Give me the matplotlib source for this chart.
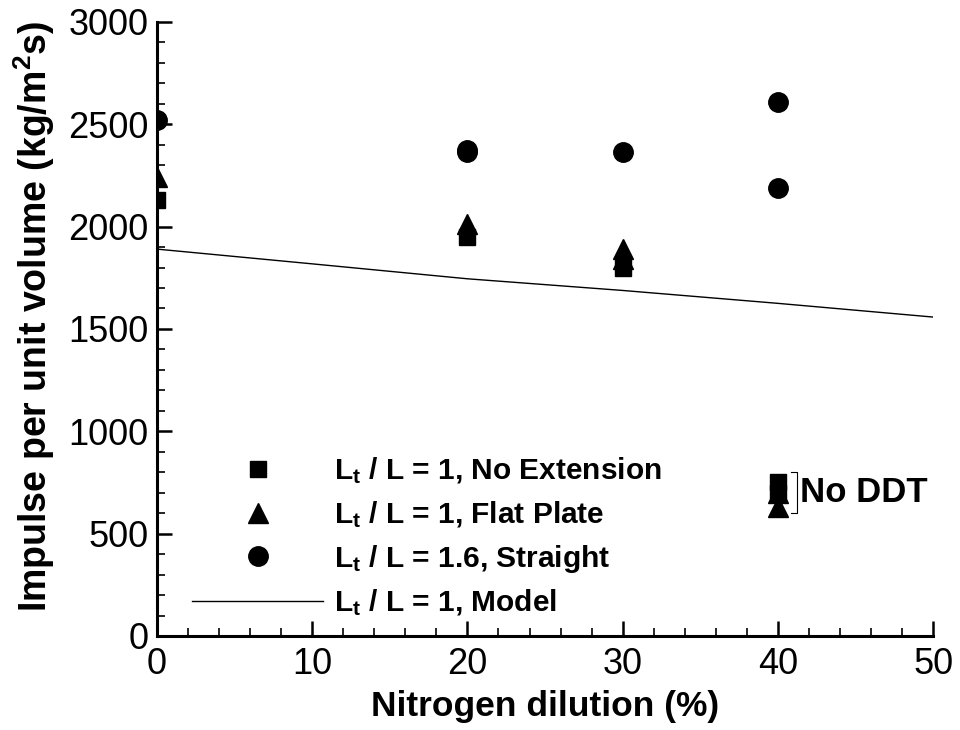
import matplotlib
matplotlib.use("Agg")
import matplotlib.pyplot as plt
from matplotlib.ticker import MultipleLocator

plt.rcParams["font.family"] = ["Liberation Sans", "DejaVu Sans"]
plt.rcParams["mathtext.fontset"] = "custom"
plt.rcParams["mathtext.rm"] = "Liberation Sans"
plt.rcParams["mathtext.bf"] = "Liberation Sans:bold"
plt.rcParams["mathtext.it"] = "Liberation Sans:italic"

# Data
square_x = [0, 20, 30, 40, 40]
square_y = [2130, 1950, 1800, 752, 700]
triangle_x = [0, 20, 30, 30, 40, 40]
triangle_y = [2240, 2015, 1890, 1840, 700, 628]
circle_x = [0, 20, 20, 30, 40, 40]
circle_y = [2520, 2375, 2365, 2362, 2610, 2190]
model_x = [0, 10, 20, 30, 40, 50]
model_y = [1890, 1818, 1745, 1688, 1625, 1558]

labels = [
    r"$\mathbf{L_t}$ / L = 1, No Extension",
    r"$\mathbf{L_t}$ / L = 1, Flat Plate",
    r"$\mathbf{L_t}$ / L = 1.6, Straight",
    r"$\mathbf{L_t}$ / L = 1, Model",
]

# No DDT bracket (data coords)
bracket_x = [40.85, 41.2, 41.2, 40.85]
bracket_y = [800, 800, 602, 602]
no_ddt_pos = (41.4, 700)

fig = plt.figure(figsize=(9.6, 7.3), dpi=100)
ax = fig.add_axes([0.1635, 0.1288, 0.8085, 0.8412])

ax.plot(square_x, square_y, "s", color="black", markersize=12, linestyle="none", label=labels[0])
ax.plot(triangle_x, triangle_y, "^", color="black", markersize=14, linestyle="none", label=labels[1])
ax.plot(circle_x, circle_y, "o", color="black", markersize=14, linestyle="none", label=labels[2])
ax.plot(model_x, model_y, "-", color="black", linewidth=1.0, label=labels[3])

ax.plot(bracket_x, bracket_y, "-", color="black", linewidth=0.8)
ax.text(no_ddt_pos[0], no_ddt_pos[1], "No DDT", fontsize=25, fontweight="bold",
        va="center", ha="left")

ax.set_xlim(0, 50)
ax.set_ylim(0, 3000)
ax.xaxis.set_major_locator(MultipleLocator(10))
ax.xaxis.set_minor_locator(MultipleLocator(2))
ax.yaxis.set_major_locator(MultipleLocator(500))
ax.yaxis.set_minor_locator(MultipleLocator(100))

for side in ["top", "right"]:
    ax.spines[side].set_visible(False)
for side in ["left", "bottom"]:
    ax.spines[side].set_linewidth(2.2)

ax.tick_params(which="major", direction="in", length=11, width=1.8, labelsize=26)
ax.tick_params(axis="y", which="major", pad=6)
ax.tick_params(axis="x", which="major", pad=8)
ax.tick_params(which="minor", direction="in", length=6, width=1.2)

ax.set_xlabel("Nitrogen dilution (%)", fontsize=25.5, fontweight="bold", labelpad=6)
ax.set_ylabel(r"Impulse per unit volume (kg/m$^{\mathbf{2}}$s)", fontsize=27,
              fontweight="bold")
ax.yaxis.set_label_coords(-0.129, 0.52)

leg = ax.legend(loc="lower left", bbox_to_anchor=(0.022, 0.0), frameon=False,
                fontsize=21.5, handlelength=4.4, handletextpad=0.35,
                labelspacing=0.43, borderpad=0.1)
for t in leg.get_texts():
    t.set_fontweight("bold")

fig.savefig("out.png", dpi=100)
